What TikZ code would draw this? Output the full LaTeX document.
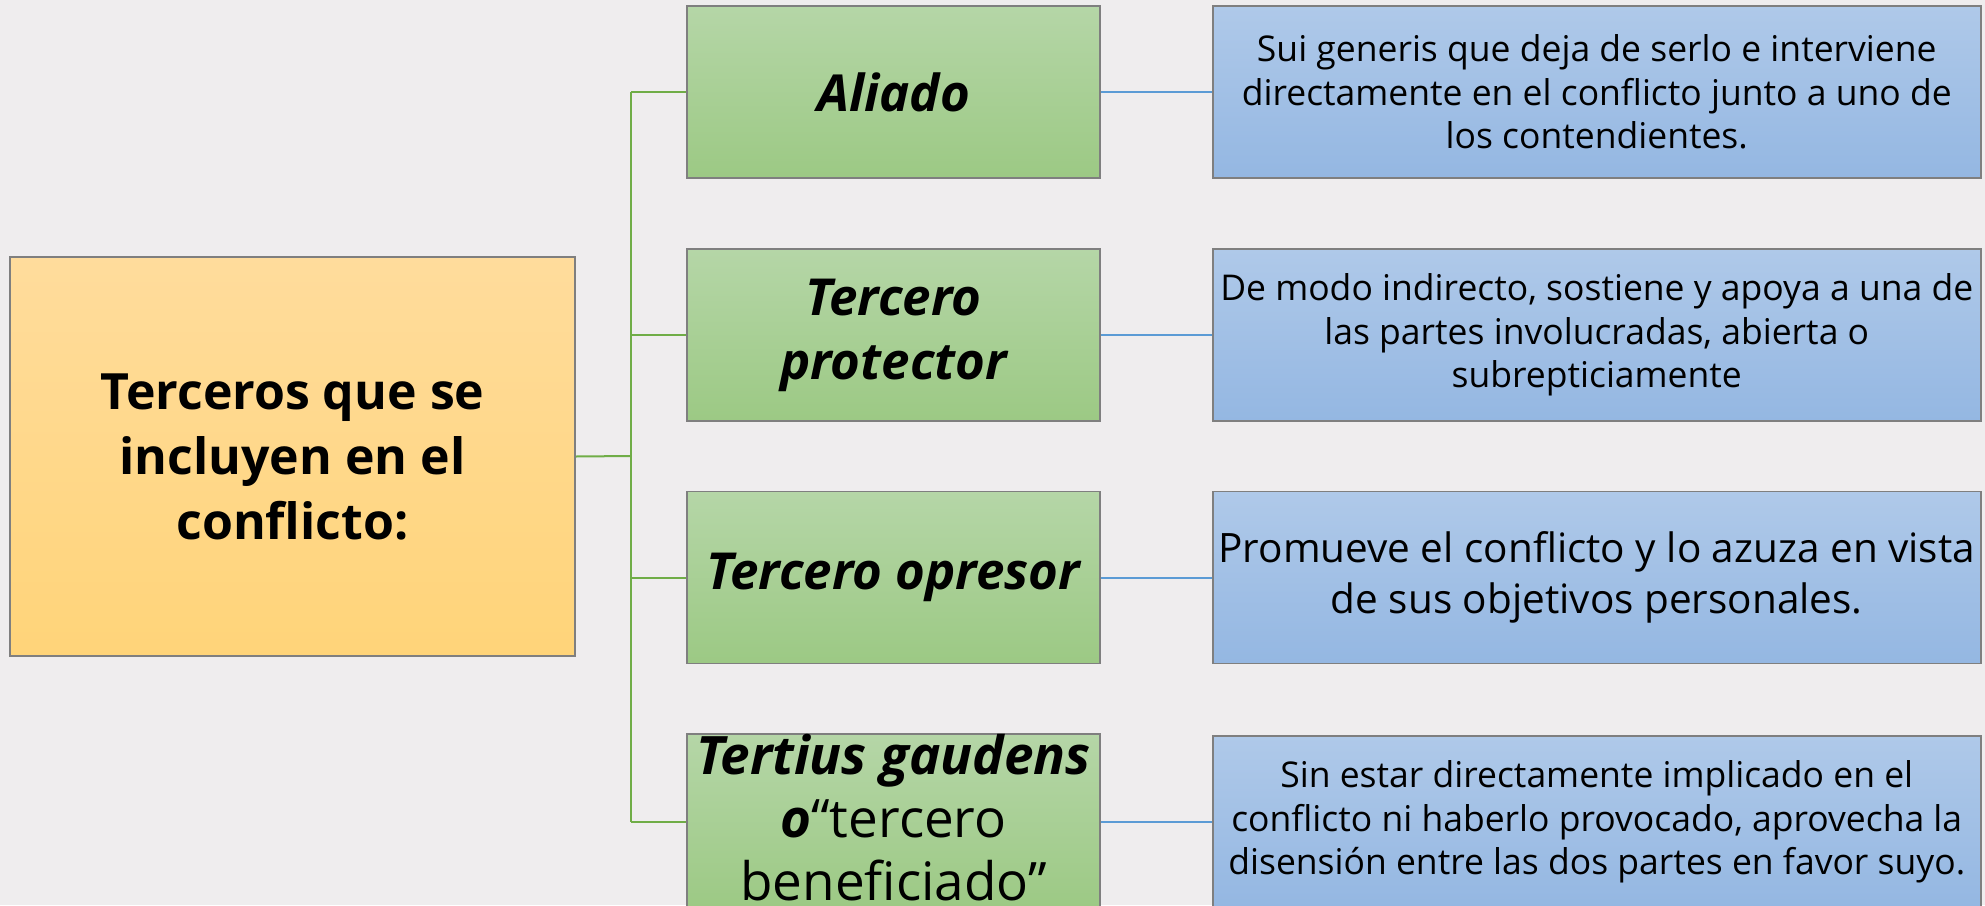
\documentclass[tikz,border=0pt]{standalone}
\usepackage{fontspec}
\setmainfont{Open Sans}
\definecolor{bgc}{HTML}{EFEDEE}
\definecolor{orT}{HTML}{FFDC9C}
\definecolor{orB}{HTML}{FFD479}
\definecolor{grT}{HTML}{B5D6A7}
\definecolor{grB}{HTML}{9CC984}
\definecolor{blT}{HTML}{AFC9E9}
\definecolor{blB}{HTML}{94B7E2}
\definecolor{bord}{HTML}{7F7F7F}
\definecolor{gln}{HTML}{70AD47}
\definecolor{bln}{HTML}{5B9BD5}
\begin{document}
\begin{tikzpicture}[x=1pt,y=-1pt,
  box/.style={draw=bord,line width=1.5pt,inner sep=0pt,align=center},
  mainbox/.style={box,top color=orT,bottom color=orB,minimum width=565pt,minimum height=399pt,
    font=\fontsize{50}{65}\selectfont\bfseries},
  greenbox/.style={box,top color=grT,bottom color=grB,minimum width=413pt,minimum height=172pt,
    font=\fontsize{51}{64}\selectfont\bfseries\itshape},
  bluebox/.style={box,top color=blT,bottom color=blB,minimum width=768pt,minimum height=172pt,
    font=\fontsize{35.5}{43.5}\selectfont},
  gline/.style={draw=gln,line width=2pt},
  bline/.style={draw=bln,line width=2pt}]
\clip (0,0) rectangle (1985,905);
\fill[bgc] (0,0) rectangle (1985,905);
\useasboundingbox (0,0) rectangle (1985,905);
\node[mainbox] (main) at (292.5,456.5) {Terceros que se\\incluyen en el\\conflicto:};
\node[greenbox] (g1) at (893.5,92) {Aliado};
\node[greenbox] (g2) at (893.5,335) {Tercero\\protector};
\node[greenbox] (g3) at (893.5,577.5) {Tercero opresor};
\node[greenbox,minimum height=176pt] (g4) at (893.5,822) {};
\node[font=\fontsize{53}{63}\selectfont,align=center,inner sep=0pt] (g4t) at ([yshift=4pt]g4.center)
  {\bfseries\itshape Tertius gaudens\\{\bfseries\itshape o}“tercero\\beneficiado”};
\node[bluebox] (b1) at (1596.75,92) {Sui generis que deja de serlo e interviene\\directamente en el conflicto junto a uno de\\los contendientes.};
\node[bluebox] (b2) at (1596.75,335) {De modo indirecto, sostiene y apoya a una de\\las partes involucradas, abierta o\\subrepticiamente};
\node[bluebox,font=\fontsize{40.5}{51}\selectfont] (b3) at (1596.75,577.5) {Promueve el conflicto y lo azuza en vista\\de sus objetivos personales.};
\node[bluebox] (b4) at (1596.75,822) {Sin estar directamente implicado en el\\conflicto ni haberlo provocado, aprovecha la\\disensión entre las dos partes en favor suyo.};
\coordinate (tk) at (631,456);
\draw[gline] (main.east) -- (tk);
\draw[gline] (tk |- g1.west) -- (tk |- g4.west);
\foreach \i in {1,2,3,4}{
  \draw[gline] (tk |- g\i.west) -- (g\i.west);
  \draw[bline] (g\i.east) -- (b\i.west);
}
\end{tikzpicture}
\end{document}
